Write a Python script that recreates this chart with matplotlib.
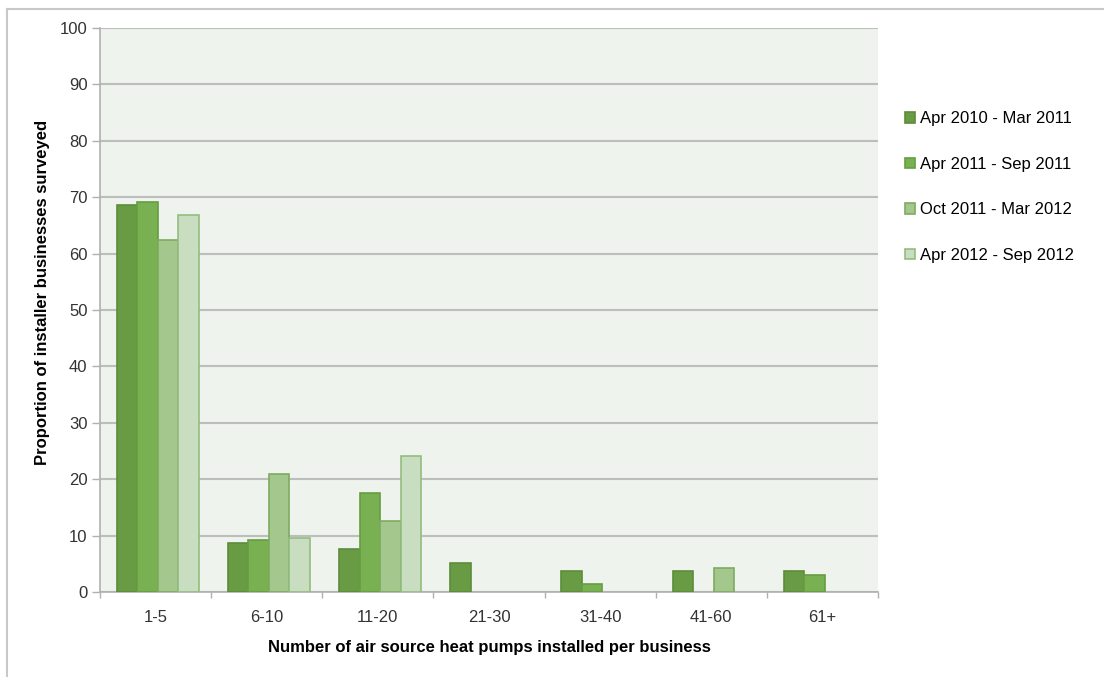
import matplotlib
matplotlib.use("Agg")
import matplotlib.pyplot as plt
import numpy as np
from matplotlib.lines import Line2D

plt.rcParams['font.family'] = ['Liberation Sans', 'DejaVu Sans']

categories = ["1-5", "6-10", "11-20", "21-30", "31-40", "41-60", "61+"]
series_names = ["Apr 2010 - Mar 2011", "Apr 2011 - Sep 2011",
                "Oct 2011 - Mar 2012", "Apr 2012 - Sep 2012"]
s1 = [68.7, 8.6, 7.6, 5.1, 3.7, 3.7, 3.7]
s2 = [69.2, 9.3, 17.6, 0, 1.5, 0, 3.0]
s3 = [62.5, 21.0, 12.6, 0, 0, 4.3, 0]
s4 = [66.8, 9.6, 24.1, 0, 0, 0, 0]
yticks = [0, 10, 20, 30, 40, 50, 60, 70, 80, 90, 100]

series = [s1, s2, s3, s4]
faces = ["#699a44", "#79b152", "#a3c78d", "#c9dec0"]
edges = ["#5c8c3a", "#659e42", "#7dab60", "#93bd80"]

fig = plt.figure(figsize=(11.04, 6.77), dpi=100)
ax = fig.add_axes([100/1104, 85/677, 778/1104, 564/677])
ax.set_facecolor("#eef3ed")

x = np.arange(len(categories))
w = 0.184
handles = []
for i, (vals, fc, ec, name) in enumerate(zip(series, faces, edges, series_names)):
    lws = [1.2 if v > 0 else 0 for v in vals]
    b = ax.bar(x + 0.02 + (i - 1.5) * w, vals, width=w, color=fc, edgecolor=ec,
               linewidth=lws, label=name, zorder=3)
    handles.append(b)

ax.set_xlim(-0.5, len(categories) - 0.5)
ax.set_ylim(0, 100)
ax.set_yticks(yticks)
ax.set_yticklabels([str(t) for t in yticks], fontsize=12, color="#333333")
ax.set_xticks(x)
ax.set_xticklabels(categories, fontsize=12, color="#333333")
ax.tick_params(axis='x', length=0, pad=13)
ax.tick_params(axis='y', length=6, width=1, color="#b0b0b0", pad=3)
# category boundary ticks
ax.set_xticks(np.arange(-0.5, len(categories)), minor=True)
ax.tick_params(axis='x', which='minor', length=4, width=1, color="#b0b0b0")

ax.yaxis.grid(True, color="#bdbdbd", linewidth=1.5, zorder=0)
ax.set_axisbelow(True)
for s in ["top", "right"]:
    ax.spines[s].set_visible(False)
for s in ["left", "bottom"]:
    ax.spines[s].set_color("#b0b0b0")
    ax.spines[s].set_linewidth(1.2)

ax.set_xlabel("Number of air source heat pumps installed per business",
              fontsize=12, fontweight="bold", labelpad=11)
ax.set_ylabel("Proportion of installer businesses surveyed",
              fontsize=12, fontweight="bold", labelpad=7, y=0.532)

leg = ax.legend(handles=handles, loc="upper left",
                bbox_to_anchor=(897/1104, 1 - 103/677), bbox_transform=fig.transFigure,
                frameon=False, fontsize=12, handlelength=0.6, handleheight=0.6,
                handletextpad=0.3, labelspacing=1.83, borderpad=0)

# figure border (left & top)
fig.add_artist(Line2D([7/1104, 7/1104], [0, 1 - 9/677], transform=fig.transFigure,
                      color="#c8c8c8", linewidth=1.5))
fig.add_artist(Line2D([7/1104, 1], [1 - 9/677, 1 - 9/677], transform=fig.transFigure,
                      color="#c8c8c8", linewidth=1.5))

fig.savefig("out.png", dpi=100, facecolor="white")
